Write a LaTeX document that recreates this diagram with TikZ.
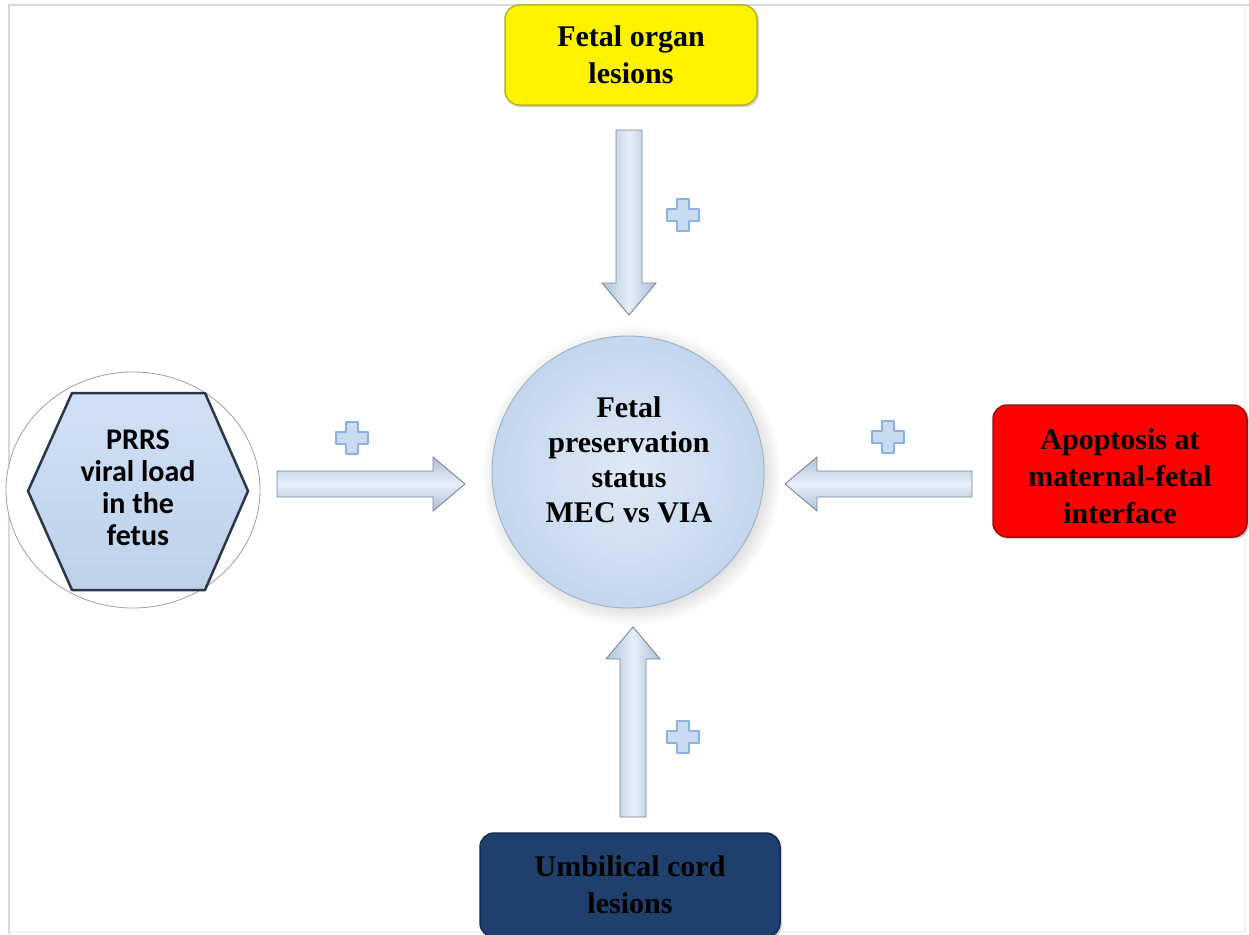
\documentclass[tikz,border=0pt]{standalone}
\usepackage{fontspec}
\setmainfont{Liberation Serif}
\newfontfamily\calib{Carlito}
\usetikzlibrary{calc,shadows,shapes.geometric}
\definecolor{framec}{HTML}{D3DAE3}
\definecolor{arrowedge}{HTML}{AEC0D8}
\definecolor{arrowmid}{HTML}{E6EEF8}
\definecolor{arrowline}{HTML}{7A8799}
\definecolor{plusfill}{HTML}{C9DBF1}
\definecolor{plusdraw}{HTML}{8EB2DE}
\definecolor{hexfill}{HTML}{C6D9F1}
\definecolor{hexline}{HTML}{2A3748}
\definecolor{circin}{HTML}{DFE9F6}
\definecolor{circout}{HTML}{C3D6EE}
\definecolor{circline}{HTML}{A3B5CC}
\definecolor{navy}{HTML}{1F3F6C}
\definecolor{navyline}{HTML}{142C4F}
\definecolor{yelline}{HTML}{B5B52A}
\definecolor{redline}{HTML}{9E1010}
\newcommand\fatarrow[3]{%
  \coordinate (fah) at ($(#2)!32pt!(#1)$);
  \path[arrowbody,#3] ($(#1)!13pt!90:(#2)$) -- ($(fah)!13pt!-90:(#1)$) -- ($(fah)!27pt!-90:(#1)$)
    -- (#2) -- ($(fah)!27pt!90:(#1)$) -- ($(fah)!13pt!90:(#1)$) -- ($(#1)!13pt!-90:(#2)$) -- cycle;
}
\begin{document}
\begin{tikzpicture}[x=1pt,y=-1pt,
  box/.style={rounded corners=14pt, align=center, inner sep=0pt,
    font=\bfseries\fontsize{30}{37}\selectfont, line width=1.5pt,
    drop shadow={shadow xshift=2pt, shadow yshift=-2pt, opacity=0.35}},
  arrowbody/.style={draw=arrowline, line width=0.9pt, line join=miter},
  vshade/.style={left color=arrowedge, right color=arrowedge, middle color=arrowmid},
  hshade/.style={top color=arrowedge, bottom color=arrowedge, middle color=arrowmid},
  plussign/.pic={\draw[fill=plusfill, draw=plusdraw, line width=2pt, line join=round]
    (-6,-16) -- (6,-16) -- (6,-6) -- (16,-6) -- (16,6) -- (6,6) -- (6,16) -- (-6,16)
    -- (-6,6) -- (-16,6) -- (-16,-6) -- (-6,-6) -- cycle;}
]
\useasboundingbox (0,0) rectangle (1249,934);
\fill[white] (0,0) rectangle (1249,934);
% frame
\draw[framec!35, line width=1.5pt] (1245,5) -- (1245,932) -- (9,932);
\draw[framec, line width=2pt] (9,934) -- (9,5) -- (1249,5);

% outer boxes
\node[box, fill=yellow, draw=yelline, minimum width=252pt, minimum height=100pt] (organ) at (631,55) {Fetal organ\\lesions};
\node[box, fill=red, draw=redline, minimum width=254pt, minimum height=132pt] (apop) at (1120,471) {};
\node[align=center, font=\bfseries\fontsize{30}{37}\selectfont] (apoptext) at (1120,476) {Apoptosis at\\maternal-fetal\\interface};
\node[box, fill=navy, draw=navyline, minimum width=300pt, minimum height=104pt] (cord) at (630,885) {Umbilical cord\\lesions};

% PRRS ring and hexagon
\node[ellipse, draw=gray!75, line width=0.8pt, fill=white, minimum width=254pt, minimum height=236pt] (ring) at (133,490) {};
\coordinate (hexc) at (138,491);
\draw[hexline, line width=2.5pt, line join=round, top color=hexfill!80!white, bottom color=hexfill!96!black, middle color=hexfill]
  ($(hexc)+(-110,0)$) -- ($(hexc)+(-66,-98)$) -- ($(hexc)+(67,-98)$) -- ($(hexc)+(110,0)$)
  -- ($(hexc)+(67,99)$) -- ($(hexc)+(-66,99)$) -- cycle;
\node[align=center, font=\calib\bfseries\fontsize{30}{32}\selectfont] (prrs) at (138,488) {PRRS\\viral load\\in the\\fetus};

% central circle
\node[circle, minimum size=272pt, inner sep=0pt, draw=circline, line width=1pt,
  inner color=circin, outer color=circout,
  circular drop shadow={shadow xshift=3pt, shadow yshift=-3pt, opacity=0.3}] (status) at (628,472) {};
\node[align=center, font=\bfseries\fontsize{30}{35}\selectfont] (statustext) at (629,460) {Fetal\\preservation\\status\\MEC vs VIA};

% arrows
\coordinate (ta) at (629,130); \coordinate (tb) at (629,315);
\coordinate (ba) at (633,817); \coordinate (bb) at (633,627);
\coordinate (la) at (277,484); \coordinate (lb) at (465,484);
\coordinate (ra) at (972,484); \coordinate (rb) at (785,484);
\fatarrow{ta}{tb}{vshade}
\fatarrow{ba}{bb}{vshade}
\fatarrow{la}{lb}{hshade}
\fatarrow{ra}{rb}{hshade}

% plus signs
\pic at (683,215) {plussign};
\pic at (352,438) {plussign};
\pic at (888,437) {plussign};
\pic at (683,737) {plussign};
\end{tikzpicture}
\end{document}
